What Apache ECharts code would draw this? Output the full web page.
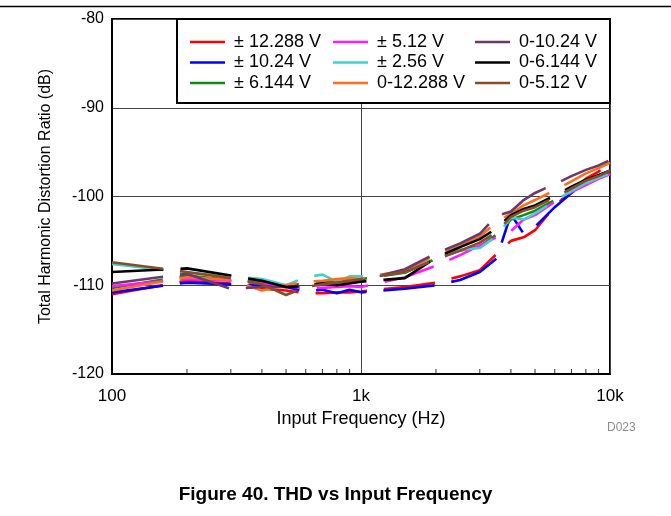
<!DOCTYPE html>
<html><head><meta charset="utf-8">
<script src="https://cdn.jsdelivr.net/npm/echarts@6/dist/echarts.min.js"></script>
<style>html,body{margin:0;padding:0;background:#fff}#c{width:671px;height:516px}</style>
</head><body><div id="c"></div><script>
const freqs = [100,200,300,400,500,600,700,800,900,1000,1500,2000,2500,3000,3500,4000,4500,5000,6000,7000,8000,9000,10000];
const xTickLabels = {100:'100',1000:'1k',10000:'10k'};
const minorTickFreqs = [200,300,400,500,600,700,800,900,2000,3000,4000,5000,6000,7000,8000,9000];

const seriesNames = ['± 12.288 V','± 10.24 V','± 6.144 V','± 5.12 V','± 2.56 V','0-12.288 V','0-10.24 V','0-6.144 V','0-5.12 V'];
const seriesColors = ['#ff0000','#0000ff','#138a13','#ff1aff','#40d0d0','#ff6f1a','#6b3a6b','#000000','#8b4a28'];

const bip12288 = [-111.0,-109.5,-109.8,-110.4,-110.6,-110.9,-110.9,-110.8,-110.8,-110.7,-110.2,-109.7,-109.0,-108.3,-106.5,-105.0,-104.6,-103.8,-101.1,-99.3,-98.0,-97.2,-96.3];
const bip1024  = [-110.8,-109.7,-109.9,-110.0,-110.2,-110.7,-110.5,-110.9,-110.5,-110.8,-110.4,-110.0,-109.4,-108.5,-107.0,-102.0,-104.2,-103.4,-101.2,-99.6,-98.4,-97.6,-97.1];
const bip6144  = [-110.3,-108.9,-109.4,-109.6,-110.0,-109.8,-109.6,-109.5,-109.4,-109.3,-108.6,-107.0,-106.1,-105.6,-104.3,-102.6,-102.1,-101.6,-100.4,-99.3,-98.4,-97.8,-97.4];
const bip512   = [-110.1,-109.3,-109.5,-109.8,-110.1,-110.3,-110.3,-110.2,-110.1,-110.2,-109.1,-107.8,-106.6,-105.5,-104.6,-103.9,-102.6,-102.1,-100.6,-99.5,-98.7,-98.0,-97.5];
const bip256   = [-107.6,-108.6,-109.0,-109.3,-110.0,-109.1,-108.8,-109.6,-109.0,-109.0,-108.5,-106.9,-106.0,-105.8,-104.5,-102.4,-102.6,-101.9,-100.5,-99.4,-98.5,-97.9,-97.4];
const uni12288 = [-110.6,-109.1,-109.4,-110.6,-110.0,-109.6,-109.5,-109.3,-109.2,-109.3,-108.3,-106.6,-105.6,-104.5,-102.9,-101.9,-101.0,-100.4,-99.3,-98.3,-97.4,-96.8,-96.2];
const uni1024  = [-109.8,-108.7,-110.4,-110.2,-110.2,-110.0,-109.8,-109.7,-109.6,-109.5,-108.2,-106.4,-105.3,-104.2,-102.2,-101.7,-100.4,-99.6,-98.6,-97.7,-97.0,-96.5,-95.9];
const uni6144  = [-108.5,-108.1,-108.9,-109.5,-110.2,-110.1,-109.8,-110.0,-109.8,-109.6,-109.2,-106.9,-105.7,-104.8,-103.6,-102.1,-101.4,-101.0,-99.9,-98.9,-98.1,-97.6,-97.1];
const uni512   = [-107.4,-108.5,-109.2,-109.9,-111.1,-110.2,-109.9,-109.7,-109.5,-109.3,-108.5,-107.1,-106.1,-105.2,-104.0,-102.3,-101.6,-101.2,-100.1,-99.1,-98.2,-97.7,-97.1];

const seriesValues = [bip12288,bip1024,bip6144,bip512,bip256,uni12288,uni1024,uni6144,uni512];

const FONT = "'Liberation Sans', Arial, sans-serif";
const chart = echarts.init(document.getElementById('c'), null, {renderer:'canvas'});

const lineSeries = seriesNames.map((name, i) => ({
  name: name,
  type: 'line',
  data: freqs.map((f, k) => [f, seriesValues[i][k]]),
  showSymbol: false,
  symbol: 'none',
  color: seriesColors[i],
  lineStyle: {width: 2.6, type: [51.5, 17], color: seriesColors[i]},
  z: 2 + i * 0.01,
  animation: false
}));

const tickSeries = {
  name: 'minorTicks',
  type: 'scatter',
  data: minorTickFreqs.map(f => [f, -120]),
  symbol: 'rect',
  symbolSize: [1, 5],
  symbolOffset: [0, -2.5],
  itemStyle: {color: '#000'},
  silent: true,
  z: 3,
  animation: false
};

function legendCol(left, names) {
  return {
    orient: 'vertical',
    left: left,
    top: 33,
    padding: 0,
    icon: 'rect',
    itemWidth: 35,
    itemHeight: 2.6,
    itemGap: 2.5,
    data: names,
    z: 6,
    selectedMode: false,
    textStyle: {fontFamily: FONT, fontSize: 18, lineHeight: 18, color: '#000', padding: [0,0,0,4]}
  };
}

chart.setOption({
  animation: false,
  backgroundColor: '#fff',
  grid: {left: 112, right: 61, top: 19, bottom: 142, show: true, borderColor: '#000', borderWidth: 2, backgroundColor: 'transparent'},
  xAxis: {
    type: 'log', logBase: 10, min: 100, max: 10000,
    name: 'Input Frequency (Hz)', nameLocation: 'middle', nameGap: 31,
    nameTextStyle: {fontFamily: FONT, fontSize: 18, color: '#000'},
    axisLine: {show: true, lineStyle: {color: '#000', width: 2}},
    axisTick: {show: false},
    axisLabel: {fontFamily: FONT, fontSize: 17, color: '#000', margin: 14,
      formatter: v => xTickLabels[Math.round(v)] || ''},
    splitLine: {show: true, lineStyle: {color: '#444', width: 1}}
  },
  yAxis: {
    type: 'value', min: -120, max: -80, interval: 10,
    name: 'Total Harmonic Distortion Ratio (dB)', nameLocation: 'middle', nameGap: 58,
    nameTextStyle: {fontFamily: FONT, fontSize: 16, color: '#000'},
    axisLine: {show: true, lineStyle: {color: '#000', width: 2}},
    axisTick: {show: false},
    axisLabel: {fontFamily: FONT, fontSize: 16, color: '#000', margin: 8},
    splitLine: {show: true, lineStyle: {color: '#444', width: 1}}
  },
  legend: [
    legendCol(190, seriesNames.slice(0,3)),
    legendCol(333, seriesNames.slice(3,6)),
    legendCol(475, seriesNames.slice(6,9))
  ],
  graphic: [
    {type: 'rect', shape: {x: 177, y: 19, width: 433, height: 84}, style: {fill: '#fff', stroke: '#000', lineWidth: 2}, z: 4},
    {type: 'line', shape: {x1: 0, y1: 6.5, x2: 671, y2: 6.5}, style: {stroke: '#000', lineWidth: 1.5}, z: 4},
    {type: 'text', left: 607, top: 422, style: {text: 'D023', fill: '#8c8c8c', font: '12px ' + FONT}, z: 4},
    {type: 'text', left: 'center', top: 485, style: {text: 'Figure 40. THD vs Input Frequency', fill: '#000', font: 'bold 19px ' + FONT}, z: 4}
  ],
  series: lineSeries.concat([tickSeries])
});
</script></body></html>
